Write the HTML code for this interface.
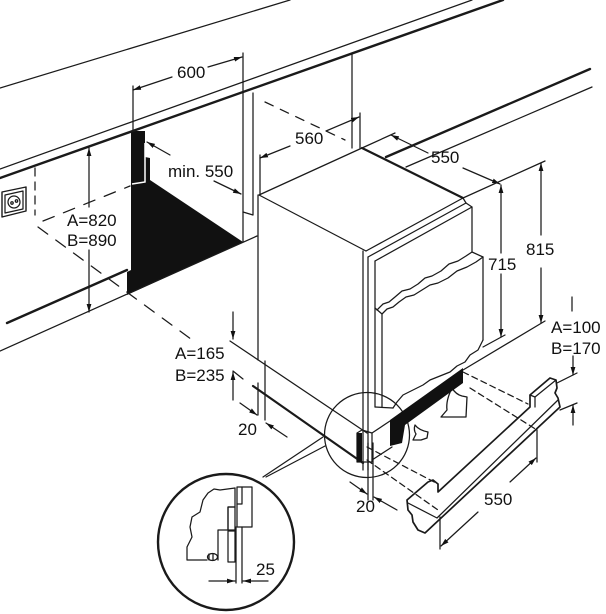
<!DOCTYPE html>
<html><head><meta charset="utf-8"><style>
html,body{margin:0;padding:0;background:#fff;}
svg{display:block;}
text{font-family:"Liberation Sans",sans-serif;font-size:17px;fill:#111;}
</style></head><body>
<svg width="606" height="614" viewBox="0 0 606 614" xmlns="http://www.w3.org/2000/svg">
<defs>
<marker id="a" viewBox="0 0 10 6" refX="10" refY="3" markerWidth="8" markerHeight="5" markerUnits="userSpaceOnUse" orient="auto"><path d="M0,0 L10,3 L0,6 z" fill="#111"/></marker>
</defs>
<rect width="606" height="614" fill="#fff"/>

<!-- black niche side -->
<path d="M131,131 L145,131 L145,157 L150,158 L150,180 L243,242 L127,295 L127,272 L131,270 Z" fill="#111"/>
<path d="M145,143 L145,182 L132,184" fill="none" stroke="#fff" stroke-width="1.5"/>

<g fill="none" stroke="#1a1a1a" stroke-width="1.25" stroke-linecap="round" stroke-linejoin="round">
<!-- countertop -->
<path d="M0,88 L290,0"/>
<path d="M0,169 L472,0"/>
<path d="M0,178 L503,0" stroke-width="2.4"/>
<!-- right cabinet -->
<path d="M386,157 L590,69" stroke-width="2.4"/>
<path d="M406,167 L592,87"/>
<!-- left cabinet -->
<path d="M7,323 L127,270" stroke-width="2.4"/>
<path d="M0,351 L257,236"/>
<path d="M35,168 L35,215" stroke-dasharray="8,6"/>
<path d="M43,221 L130,186" stroke-dasharray="12,10"/>
<path d="M38,227 L195,342" stroke-dasharray="12,10"/>
<!-- socket -->
<path d="M2,192 L26,187 L26,211 L2,217 Z" stroke-width="1.4"/>
<path d="M5,195 L23,191 L23,209 L5,213 Z"/>
<circle cx="14" cy="202" r="6"/>
<circle cx="12" cy="203" r="1.2"/>
<circle cx="16.5" cy="201" r="1.2"/>

<!-- niche lines -->
<path d="M243,53 L243,242"/>
<path d="M253,93 L253,215 L243,212"/>
<path d="M352,53 L352,148"/>
<path d="M265,102 L345,140" stroke-dasharray="9,8"/>
<path d="M133,86 L133,131"/>

<!-- dim 600 -->
<path d="M172,77 L133,90" marker-end="url(#a)"/>
<path d="M208,67 L242,57" marker-end="url(#a)"/>
<!-- dim min 550 -->
<path d="M170,155 L147,142" marker-end="url(#a)"/>
<path d="M214,181 L241,194" marker-end="url(#a)"/>
<!-- dim A=820 -->
<path d="M89,207 L89,148" marker-end="url(#a)"/>
<path d="M89,250 L89,312" marker-end="url(#a)"/>

<!-- appliance body -->
<path d="M259,195 L362,148"/>
<path d="M362,148 L463,198" stroke-width="2.2"/>
<path d="M259,195 L366,251"/>
<path d="M366,251 L463,198"/>
<path d="M258,195 L258,360"/>
<path d="M258,383 L258,415"/>
<path d="M265,361 L265,420"/>
<path d="M230,341 L367,433"/>
<path d="M253,386 L363,463" stroke-width="2.2"/>
<path d="M233,371 L243,379"/>
<path d="M363,251 L363,470"/>
<path d="M368,257 L368,470"/>
<path d="M375,261 L375,407"/>
<!-- door -->
<path d="M368,257 L466,203 L463,198"/>
<path d="M375,261 L472,207 L466,203"/>
<path d="M472,207 L472,252 L483,257"/>
<path d="M472,252 L466,256 L458,261 L449,264 L441,271 L432,276 L425,278 L418,284 L410,289 L402,291 L395,297 L389,302 L383,304 L377,310"/>
<path d="M483,257 L476,262 L467,267 L457,271 L448,278 L438,283 L430,285 L422,290 L414,295 L406,297 L399,302 L393,307 L387,309 L382,314"/>
<path d="M375,308 L382,314 L382,407"/>
<path d="M483,257 L483,340"/>
<path d="M483,340 L478,350 L470,355 L465,362 L457,366 L450,372 L440,376 L430,380 L423,385 L415,389 L403,395 L397,402 L393,408"/>
<path d="M375,407 L393,408"/>

<!-- door bottom pieces -->
<path d="M357,433 L362,430 L372,433 L372,462 L357,462 Z"/>
<path d="M372,433 L390,421"/>
<path d="M372,460 L392,447"/>
<path d="M452,388 C455,393 458,395 462,396 L467,397 L466,417 L441,417 L447,410 C446,403 448,396 452,388 Z" stroke-width="1.3"/>
<path d="M415,425 C418,429 423,431 428,432 L427,438 L421,440 L413,440 L416,434 C414,431 414,428 415,425 Z" stroke-width="1.3"/>

<!-- dashed plinth guides -->
<path d="M463,372 L528,404" stroke-dasharray="6,4"/>
<path d="M470,388 L537,430" stroke-dasharray="6,4"/>
<path d="M367,447 L438,484" stroke-dasharray="6,4"/>
<path d="M367,460 L438,510" stroke-dasharray="6,4"/>

<!-- plinth -->
<path d="M407,500 L428,482 L433,480 L438,484 L438,492 L530,407 L530,395 L550,378 L556,380 L557,388 L555,393 L558,398 L560,407 L425,533 L418,530 L413,522 L412,515 L408,510 Z" stroke-width="1.7"/>
<path d="M408,503 L437,518 L558,400"/>
<path d="M530,395 L535,397 L556,380"/>
<path d="M535,397 L535,407"/>

<!-- dims 560 -->
<path d="M260,155 L260,195"/>
<path d="M360,113 L360,148"/>
<path d="M290,146 L260,158" marker-end="url(#a)"/>
<path d="M326,131 L359,117" marker-end="url(#a)"/>
<!-- dim 550 top -->
<path d="M362,148 L395,133"/>
<path d="M428,153 L391,135" marker-end="url(#a)"/>
<path d="M463,168 L500,184" marker-end="url(#a)"/>
<!-- 815 -->
<path d="M463,198 L545,161"/>
<path d="M541,235 L541,163" marker-end="url(#a)"/>
<path d="M541,268 L541,323" marker-end="url(#a)"/>
<path d="M545,321 L463,370"/>
<!-- 715 -->
<path d="M501,253 L501,185" marker-end="url(#a)"/>
<path d="M501,274 L501,337" marker-end="url(#a)"/>
<path d="M505,335 L483,347"/>
<!-- A=100 -->
<path d="M572,297 L572,311"/>
<path d="M573,356 L573,375" marker-end="url(#a)"/>
<path d="M573,425 L573,405" marker-end="url(#a)"/>
<path d="M577,373 L557,383"/>
<path d="M577,403 L560,410"/>
<!-- A=165 -->
<path d="M233,312 L233,339" marker-end="url(#a)"/>
<path d="M233,400 L233,372" marker-end="url(#a)"/>
<!-- 20 left -->
<path d="M240,403 L257,415" marker-end="url(#a)"/>
<path d="M287,437 L266,423" marker-end="url(#a)"/>
<!-- 20 bottom -->
<path d="M368,443 L368,500"/>
<path d="M373,443 L373,500"/>
<path d="M350,482 L367,494" marker-end="url(#a)"/>
<path d="M397,510 L374,497" marker-end="url(#a)"/>
<!-- 550 bottom -->
<path d="M537,430 L537,462"/>
<path d="M440,517 L440,549"/>
<path d="M510,482 L536,458" marker-end="url(#a)"/>
<path d="M478,512 L441,546" marker-end="url(#a)"/>

<!-- detail circles -->
<circle cx="367" cy="435" r="42.5"/>
<circle cx="226" cy="542" r="68" stroke-width="2.4"/>
<path d="M263,477 L323,437"/>
<path d="M266,477 L325,446"/>
<!-- detail inside big circle -->
<path d="M235,488 L220,490 L214,489 L208,493 L203,500 L200,512 L192,517 L190,527 L192,537 L187,547 L187,560 L207,560"/>
<path d="M218,560 L218,530 L228,530 L228,507 L235,507 L235,488"/>
<ellipse cx="212.5" cy="557" rx="5" ry="3.5"/>
<path d="M209,554 L209,560 M213,554 L213,560"/>
<rect x="237" y="487" width="15" height="40"/>
<path d="M242,487 L242,504 L237,504"/>
<rect x="228" y="507" width="7" height="23"/>
<rect x="228" y="531" width="7" height="31"/>
<path d="M236,527 L236,583"/>
<path d="M242,527 L242,583"/>
<path d="M209,581 L235,581" marker-end="url(#a)"/>
<path d="M268,581 L243,581" marker-end="url(#a)"/>
</g>

<!-- black strips at bottom front -->
<path d="M463,368 L463,383 L405,425 L402,443 L390,446 L390,420 Z" fill="#111"/>
<rect x="357" y="433" width="5" height="29" fill="#111"/>

<text x="177" y="78">600</text>
<text x="168" y="177">min. 550</text>
<text x="295" y="144">560</text>
<text x="431" y="163">550</text>
<text x="526" y="255">815</text>
<text x="488" y="270">715</text>
<text x="67" y="226">A=820</text>
<text x="67" y="246">B=890</text>
<text x="175" y="359">A=165</text>
<text x="175" y="381">B=235</text>
<text x="551" y="333">A=100</text>
<text x="551" y="354">B=170</text>
<text x="238" y="435">20</text>
<text x="356" y="512">20</text>
<text x="484" y="505">550</text>
<text x="256" y="575">25</text>
</svg>
</body></html>
